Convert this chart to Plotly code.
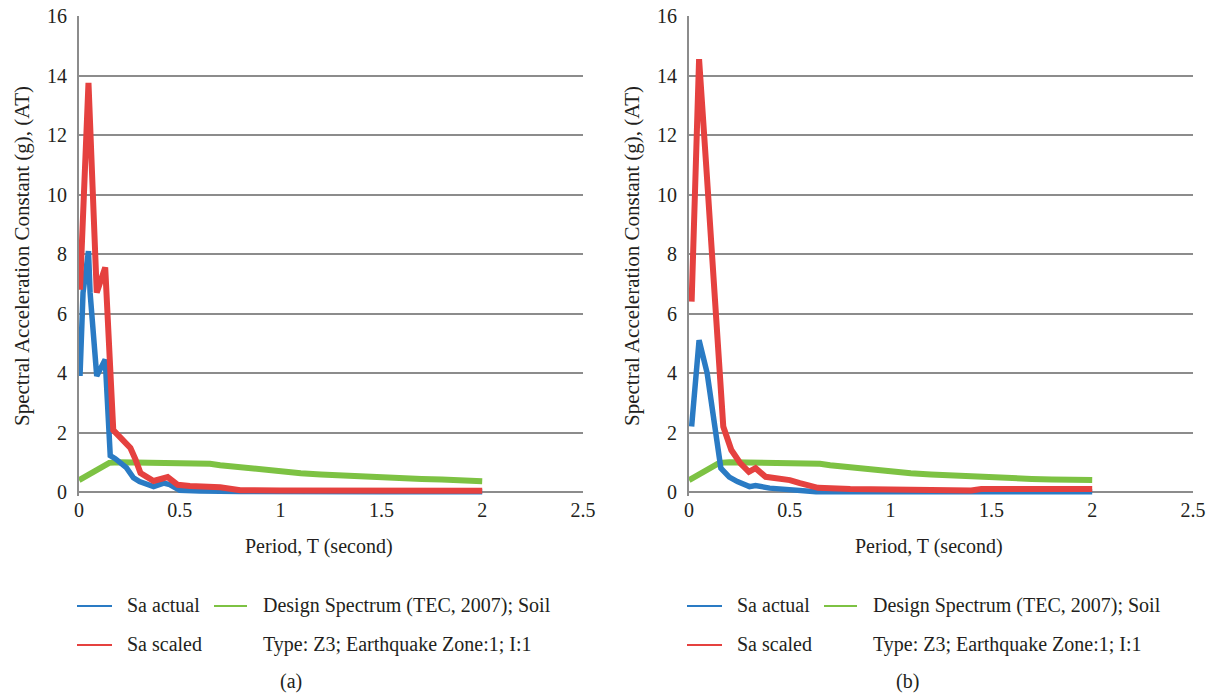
import plotly.graph_objects as go

# ---------------- data ----------------
# Panel (a)
T_a_actual = [0.005, 0.02, 0.047, 0.055, 0.088, 0.105, 0.13, 0.155, 0.18, 0.235, 0.27, 0.3, 0.37, 0.42, 0.45, 0.5, 0.6, 0.8, 1.0, 1.5, 2.0]
Sa_a_actual = [3.9, 6.7, 8.1, 6.7, 3.9, 4.1, 4.45, 1.22, 1.12, 0.82, 0.48, 0.35, 0.18, 0.3, 0.25, 0.06, 0.03, 0.02, 0.01, 0.01, 0.01]

T_a_scaled = [0.005, 0.047, 0.088, 0.13, 0.17, 0.21, 0.255, 0.28, 0.305, 0.37, 0.44, 0.49, 0.55, 0.7, 0.8, 1.0, 1.5, 2.0]
Sa_a_scaled = [6.8, 13.75, 6.7, 7.55, 2.08, 1.8, 1.48, 1.1, 0.64, 0.37, 0.5, 0.24, 0.2, 0.16, 0.06, 0.05, 0.04, 0.04]

T_a_design = [0.0, 0.05, 0.1, 0.15, 0.2, 0.3, 0.4, 0.5, 0.6, 0.65, 0.7, 0.75, 0.8, 0.85, 0.9, 0.95, 1.0, 1.1, 1.2, 1.3, 1.4, 1.5, 1.6, 1.7, 1.8, 1.9, 2.0]
Sa_a_design = [0.4, 0.6, 0.8, 0.98, 1.0, 1.0, 1.0, 1.0, 1.0, 0.95, 0.9, 0.86, 0.82, 0.78, 0.74, 0.71, 0.68, 0.63, 0.59, 0.55, 0.52, 0.49, 0.46, 0.44, 0.42, 0.4, 0.36]

# Panel (b)
T_b_actual = [0.013, 0.05, 0.09, 0.125, 0.158, 0.2, 0.24, 0.3, 0.33, 0.4, 0.5, 0.53, 0.63, 1.0, 2.0]
Sa_b_actual = [2.2, 5.1, 4.0, 2.5, 0.8, 0.5, 0.35, 0.18, 0.22, 0.13, 0.07, 0.05, 0.01, 0.01, 0.01]

T_b_scaled = [0.013, 0.05, 0.088, 0.12, 0.147, 0.17, 0.21, 0.255, 0.297, 0.33, 0.38, 0.5, 0.55, 0.64, 0.8, 1.0, 1.35, 1.4, 1.45, 2.0]
Sa_b_scaled = [6.4, 14.55, 10.7, 7.35, 5.1, 2.2, 1.41, 0.96, 0.68, 0.8, 0.51, 0.4, 0.3, 0.14, 0.1, 0.09, 0.09, 0.05, 0.1, 0.1]

T_b_design = T_a_design
Sa_b_design = [0.4, 0.6, 0.8, 0.98, 1.0, 1.0, 1.0, 1.0, 1.0, 0.95, 0.9, 0.86, 0.82, 0.78, 0.74, 0.71, 0.68, 0.63, 0.59, 0.55, 0.52, 0.49, 0.46, 0.44, 0.42, 0.41, 0.4]

x_tickvals = [0, 0.5, 1, 1.5, 2, 2.5]
x_ticktext = ["0", "0.5", "1", "1.5", "2", "2.5"]
y_tickvals = [0, 2, 4, 6, 8, 10, 12, 14, 16]

names = ["Sa actual", "Sa scaled", "Design Spectrum (TEC, 2007); Soil", "Type: Z3; Earthquake Zone:1; I:1"]
captions = ["(a)", "(b)"]

# ---------------- styling ----------------
W, H = 1213, 699
BLUE = "#2a7bc4"
RED = "#e5413f"
GREEN = "#7dc243"
GRID = "#8c8c8c"
TXT = "#231f20"
FONT = "'Liberation Serif', 'Times New Roman', serif"

def px(x):
    return x / W

def py(y):
    return 1 - y / H

fig = go.Figure()

panels = [
    ("x", "y", T_a_design, Sa_a_design, T_a_actual, Sa_a_actual, T_a_scaled, Sa_a_scaled),
    ("x2", "y2", T_b_design, Sa_b_design, T_b_actual, Sa_b_actual, T_b_scaled, Sa_b_scaled),
]
for xa, ya, td, sd, ta, sa, ts, ss in panels:
    fig.add_trace(go.Scatter(x=td, y=sd, mode="lines", line=dict(color=GREEN, width=6),
                             xaxis=xa, yaxis=ya, showlegend=False))
    fig.add_trace(go.Scatter(x=ta, y=sa, mode="lines", line=dict(color=BLUE, width=5.5),
                             xaxis=xa, yaxis=ya, showlegend=False))
    fig.add_trace(go.Scatter(x=ts, y=ss, mode="lines", line=dict(color=RED, width=6),
                             xaxis=xa, yaxis=ya, showlegend=False))

# plot-area geometry (pixels)
y0_pix, y16_pix = 492, 16
ymin = -0.12
unit = (y0_pix - y16_pix) / 16.0
ybot_pix = y0_pix - ymin * unit
ydom = [py(ybot_pix), py(y16_pix)]

xcommon = dict(range=[0, 2.5], tickvals=x_tickvals, ticktext=x_ticktext, showgrid=False,
               zeroline=False, showline=False, ticks="", automargin=False,
               tickfont=dict(family=FONT, size=20, color=TXT), fixedrange=True)
ycommon = dict(range=[ymin, 16], tickvals=y_tickvals, showgrid=True, gridcolor=GRID, gridwidth=2,
               zeroline=True, zerolinecolor=GRID, zerolinewidth=2,
               showline=True, linecolor=GRID, linewidth=2, ticks="", automargin=False,
               ticklabelstandoff=6,
               tickfont=dict(family=FONT, size=20, color=TXT), fixedrange=True)

fig.update_layout(
    width=W, height=H,
    margin=dict(l=0, r=0, t=0, b=0),
    paper_bgcolor="white", plot_bgcolor="white",
    showlegend=False,
    xaxis=dict(domain=[px(79), px(583)], anchor="y", **xcommon),
    yaxis=dict(domain=ydom, anchor="x", **ycommon),
    xaxis2=dict(domain=[px(689), px(1193)], anchor="y2", **xcommon),
    yaxis2=dict(domain=ydom, anchor="x2", **ycommon),
    font=dict(family=FONT, color=TXT),
)

annotations = []
shapes = []
for i, (xl, cap_x) in enumerate([(0, 291), (610, 907)]):
    # axis titles
    annotations.append(dict(text="Period, T (second)", x=px(319 + xl), y=py(546), xref="paper", yref="paper",
                            xanchor="center", yanchor="middle", showarrow=False,
                            font=dict(family=FONT, size=20, color=TXT)))
    annotations.append(dict(text="Spectral Acceleration Constant (g), (AT)", x=px(22 + xl), y=py(256),
                            xref="paper", yref="paper", xanchor="center", yanchor="middle",
                            showarrow=False, textangle=-90,
                            font=dict(family=FONT, size=21, color=TXT)))
    # legend
    lx = 77 + xl
    for (y, col) in [(606, BLUE), (645, RED)]:
        shapes.append(dict(type="line", xref="paper", yref="paper", x0=px(lx), x1=px(lx + 35),
                           y0=py(y), y1=py(y), line=dict(color=col, width=2)))
    shapes.append(dict(type="line", xref="paper", yref="paper", x0=px(lx + 137), x1=px(lx + 170),
                       y0=py(606), y1=py(606), line=dict(color=GREEN, width=2)))
    for (txt, x, y) in [(names[0], lx + 48, 605), (names[1], lx + 48, 644),
                        (names[2], lx + 184, 605), (names[3], lx + 184, 644)]:
        annotations.append(dict(text=txt, x=px(x), y=py(y), xref="paper", yref="paper", showarrow=False,
                                xanchor="left", yanchor="middle", font=dict(family=FONT, size=20, color=TXT)))
    annotations.append(dict(text=captions[i], x=px(cap_x), y=py(681), xref="paper", yref="paper",
                            xanchor="center", yanchor="middle",
                            showarrow=False, font=dict(family=FONT, size=20, color=TXT)))

fig.update_layout(annotations=annotations, shapes=shapes)
fig.write_html("out.html")
